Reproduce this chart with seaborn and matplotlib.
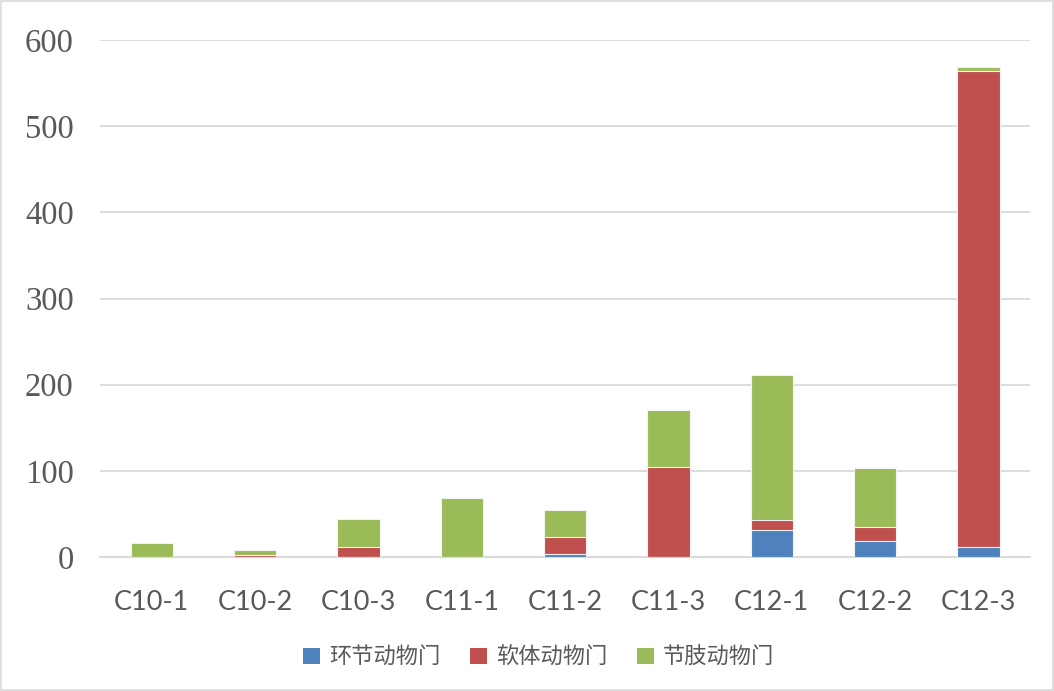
import matplotlib
matplotlib.use("Agg")
import matplotlib.pyplot as plt
from matplotlib.patches import Patch, Rectangle
import numpy as np
import pandas as pd
import seaborn as sns

# Site samples and counts per phylum
sites = ["C10-1", "C10-2", "C10-3", "C11-1", "C11-2", "C11-3", "C12-1", "C12-2", "C12-3"]
annelida = [0, 0, 0, 0, 3, 0, 31, 19, 11]        # 环节动物门
mollusca = [0, 2, 11, 0, 20, 104, 12, 16, 553]   # 软体动物门
arthropoda = [16, 6, 33, 68, 32, 67, 168, 68, 5]  # 节肢动物门

series_names = ["环节动物门", "软体动物门", "节肢动物门"]
colors = ["#4F81BD", "#C0504D", "#9BBB59"]
y_ticks = [0, 100, 200, 300, 400, 500, 600]

sns.set_theme(style="white")
plt.rcParams["font.family"] = ["Noto Sans CJK SC", "DejaVu Sans"]

fig = plt.figure(figsize=(10.54, 6.91), dpi=100)
ax = fig.add_axes([0.0949, 0.194, 0.8825, 0.748])

df = pd.DataFrame({"site": sites, "a": annelida, "m": mollusca, "r": arthropoda})
df["am"] = df["a"] + df["m"]
df["total"] = df["am"] + df["r"]

# stacked bars: draw cumulative totals from the top layer down
for col, color in zip(["total", "am", "a"], colors[::-1]):
    sns.barplot(data=df, x="site", y=col, color=color, width=0.41,
                edgecolor="#f2f2f2", linewidth=0.8, saturation=1, ax=ax, zorder=3)

ax.set_ylim(0, 600)
ax.set_xlim(-0.5, len(sites) - 0.5)
ax.set_yticks(y_ticks)
ax.set_yticklabels([str(t) for t in y_ticks], family="Liberation Serif",
                   fontsize=23.5, color="#595959")
ax.set_xticks(range(len(sites)))
ax.set_xticklabels(sites, family="Lato", fontsize=19.5, color="#595959")
ax.tick_params(axis="both", length=0)
ax.tick_params(axis="y", pad=19)
ax.tick_params(axis="x", pad=24)
ax.set_xlabel("")
ax.set_ylabel("")

ax.yaxis.grid(True, color="#d9d9d9", linewidth=1.3, zorder=0)
ax.set_axisbelow(True)
for side in ["left", "right", "top"]:
    ax.spines[side].set_visible(False)
ax.spines["bottom"].set_color("#d9d9d9")
ax.spines["bottom"].set_linewidth(1.5)

handles = [Patch(facecolor=c, edgecolor="none") for c in colors]
fig.legend(handles, series_names, loc="center", bbox_to_anchor=(0.511, 0.049),
           ncol=3, frameon=False, fontsize=16, handlelength=0.75, handleheight=0.75,
           handletextpad=0.4, columnspacing=1.35, labelcolor="#595959")

# chart frame
fig.patches.append(Rectangle((0.001, 0.001), 0.998, 0.998, transform=fig.transFigure,
                             fill=False, edgecolor="#d9d9d9", linewidth=1.2))

fig.savefig("out.png", dpi=100)
